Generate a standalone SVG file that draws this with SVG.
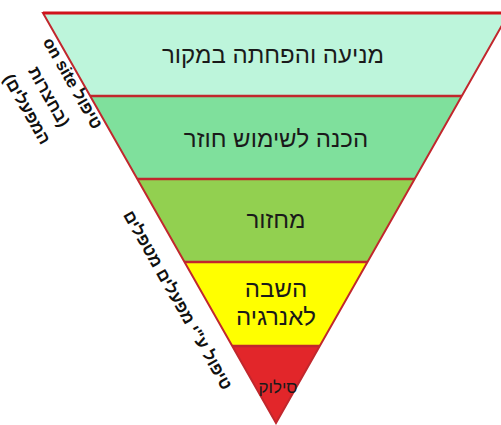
<svg xmlns="http://www.w3.org/2000/svg" width="501" height="425" viewBox="0 0 501 425">
<defs>
<clipPath id="tri"><polygon points="43,13 509,13 276,423"/></clipPath>
<style>
.lbl{font-family:"Liberation Sans","DejaVu Sans",sans-serif;fill:#1a1a1a;text-anchor:middle;direction:rtl}
.side{font-family:"Liberation Sans","DejaVu Sans",sans-serif;font-weight:bold;fill:#111;text-anchor:middle;direction:rtl;font-size:17px}
.sep{stroke:#c1272d;stroke-width:2.5}
</style>
</defs>
<rect width="501" height="425" fill="#fff"/>
<g clip-path="url(#tri)">
<g id="band1"><rect x="0" y="13" width="520" height="83" fill="#bdf5db"/></g>
<g id="band2"><rect x="0" y="96" width="520" height="83" fill="#7fe09c"/></g>
<g id="band3"><rect x="0" y="179" width="520" height="83" fill="#92d050"/></g>
<g id="band4"><rect x="0" y="262" width="520" height="84" fill="#ffff00"/></g>
<g id="band5"><rect x="0" y="346" width="520" height="80" fill="#e2262a"/></g>
<line class="sep" x1="0" y1="96" x2="520" y2="96"/>
<line class="sep" x1="0" y1="179" x2="520" y2="179"/>
<line class="sep" x1="0" y1="262" x2="520" y2="262"/>
<line class="sep" x1="0" y1="346" x2="520" y2="346"/>
</g>
<polygon points="43,13 509,13 276,423" fill="none" stroke="#c1272d" stroke-width="2"/>
<line x1="43" y1="13" x2="509" y2="13" stroke="#d0121b" stroke-width="3"/>
<text class="lbl" x="273" y="63" font-size="24">מניעה והפחתה במקור</text>
<text class="lbl" x="276" y="147" font-size="24">הכנה לשימוש חוזר</text>
<text class="lbl" x="276" y="228" font-size="24">מחזור</text>
<text class="lbl" x="276" y="297" font-size="24">השבה</text>
<text class="lbl" x="276" y="325" font-size="24">לאנרגיה</text>
<text class="lbl" x="278" y="393" font-size="17">סילוק</text>
<g id="side1">
<text class="side" transform="translate(67.8,86) rotate(60.4)">טיפול on site</text>
<text class="side" transform="translate(44,99.5) rotate(60.4)">(בחצרות</text>
<text class="side" transform="translate(22,112) rotate(60.4)">המפעלים)</text>
</g>
<g id="side2">
<text class="side" transform="translate(172.8,303) rotate(60.4)">טיפול ע"י מפעלים מטפלים</text>
</g>
</svg>
